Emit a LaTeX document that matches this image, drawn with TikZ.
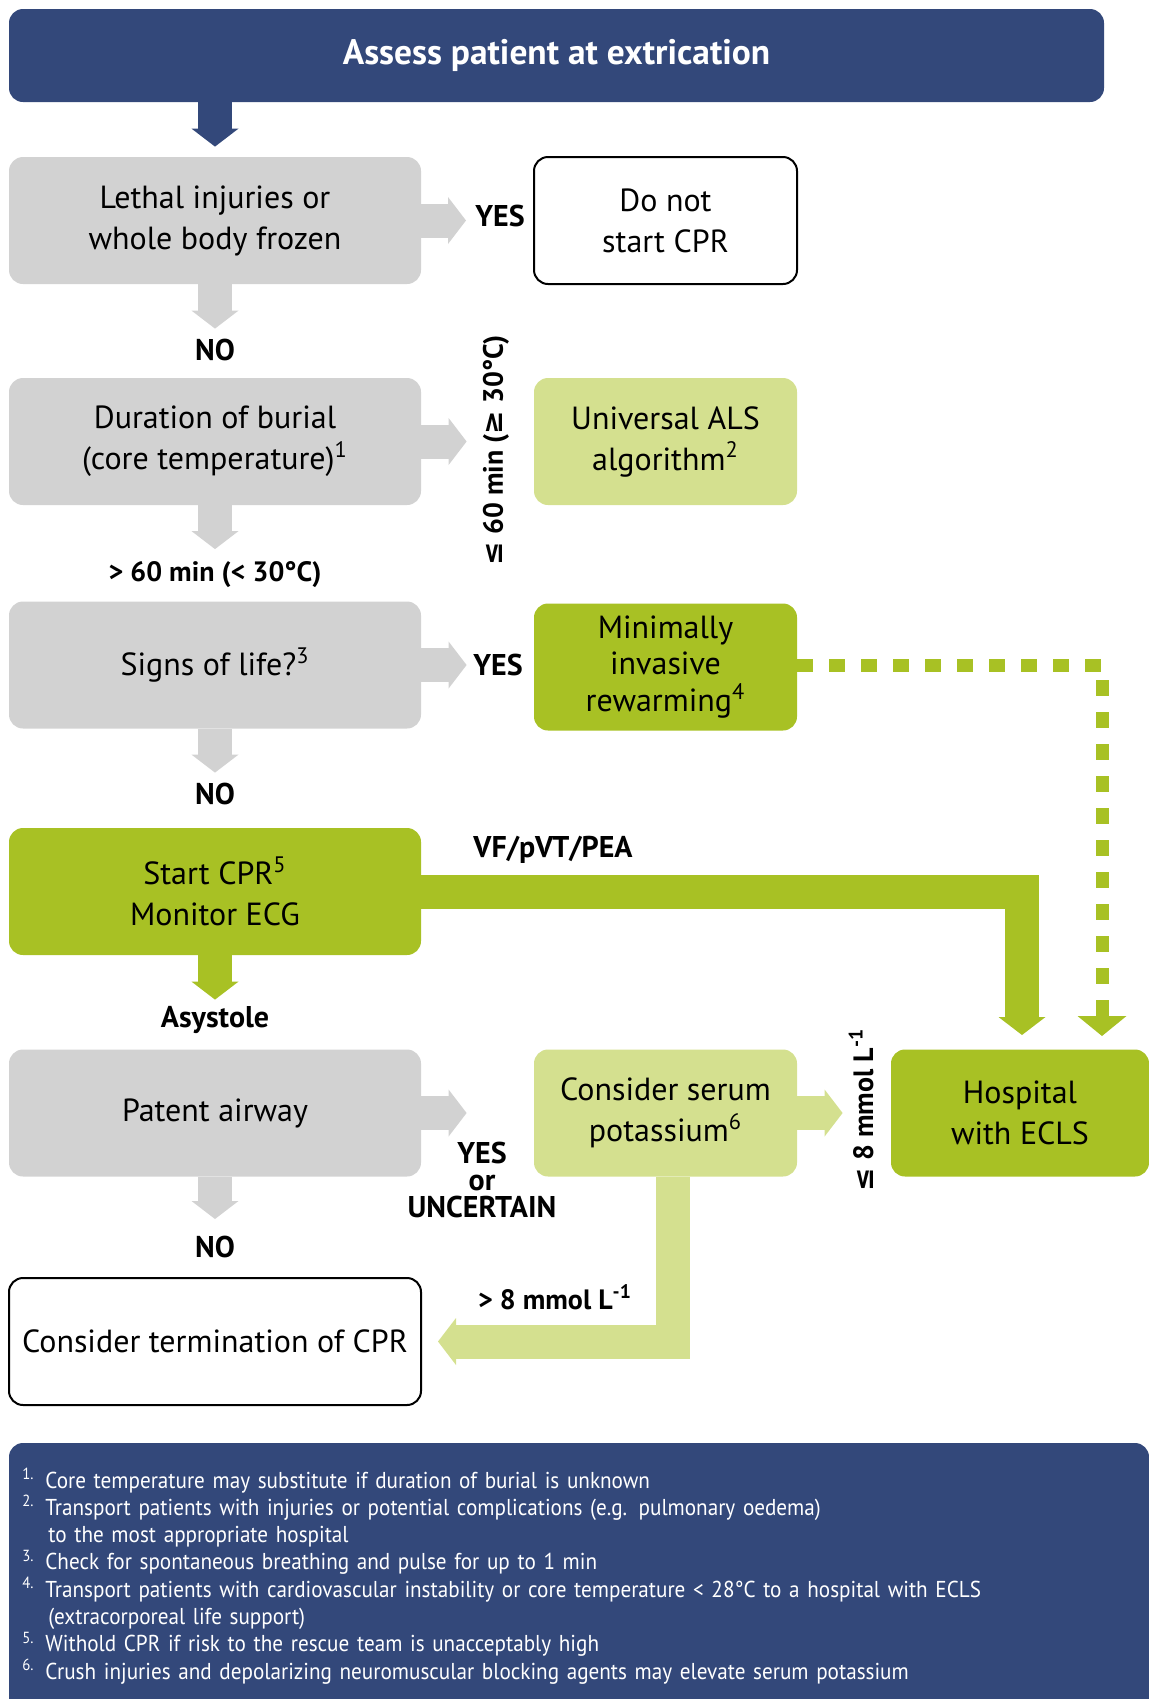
\documentclass[tikz,border=0pt]{standalone}
\usepackage{fontspec}
\setmainfont{PT Sans}
\newfontfamily\symfont{DejaVu Sans}
\newfontfamily\notefont[FakeStretch=0.92]{PT Sans}
\usetikzlibrary{arrows.meta}
\definecolor{myblue}{HTML}{33487A}
\definecolor{mygrey}{HTML}{D2D2D2}
\definecolor{mypale}{HTML}{D4E08F}
\definecolor{mygreen}{HTML}{A8C124}
\tikzset{
    every node/.style={inner sep=0pt, align=center, font=\fontsize{16}{20.5}\selectfont},
    wide/.style={rectangle, rounded corners=7pt, minimum width=206pt, minimum height=63.5pt},
    narrow/.style={rectangle, rounded corners=7pt, minimum width=131.5pt, minimum height=63.5pt},
    greybox/.style={fill=mygrey},
    palebox/.style={fill=mypale},
    limebox/.style={fill=mygreen},
    outline/.style={draw=black, line width=1pt},
    banner/.style={fill=myblue, text=white, rounded corners=7pt, minimum width=547.5pt, minimum height=46.5pt, font=\bfseries\fontsize{17.7}{20}\selectfont},
    lbl/.style={font=\bfseries\fontsize{15}{13.5}\selectfont},
    block/.style={line width=17pt, -{Triangle[width=23.5pt,length=9pt,line width=0pt]}},
    link/.style={line width=6.5pt, dash pattern=on 8pt off 8pt, mygreen, -{Triangle[width=24.5pt,length=10pt,line width=0pt]}}
}

\begin{document}
\begin{tikzpicture}[x=0.5pt, y=-0.5pt]
\useasboundingbox (0,0) rectangle (1149,1699);

\node[banner] at (556.5,55.5) (title) {Assess patient at extrication};

\node[wide,greybox] at (215,220.5) (lethal) {Lethal injuries or\\whole body frozen};
\node[narrow,outline] at (665.5,220.5) (donot) {Do not\\start CPR};
\node[lbl] at (500,216) (yes1) {YES};
\node[lbl] at (215,350) (no1) {NO};

\node[wide,greybox] at (215,441.5) (burial) {Duration of burial\\(core temperature)\textsuperscript{1}};
\node[narrow,palebox] at (665.5,441.5) (als) {Universal ALS\\algorithm\textsuperscript{2}};
\node[lbl,rotate=90,font=\bfseries\fontsize{14}{12.5}\selectfont] at (496,450) (short) {{\symfont ≤} 60 min ({\symfont ≥} 30°C)};
\node[lbl,font=\bfseries\fontsize{14}{12.5}\selectfont] at (215,575) (long) {> 60 min (< 30°C)};

\node[wide,greybox] at (215,665) (signs) {Signs of life?\textsuperscript{3}};
\node[narrow,limebox,font=\fontsize{16}{18.3}\selectfont] at (665.5,667) (rewarm) {Minimally\\invasive\\rewarming\textsuperscript{4}};
\node[lbl] at (498,665) (yes3) {YES};
\node[lbl] at (215,794) (no3) {NO};

\node[wide,limebox] at (215,891.5) (cpr) {Start CPR\textsuperscript{5}\\Monitor ECG};
\node[lbl] at (553,850) (vf) {VF/pVT/PEA};
\node[lbl] at (215,1020) (asys) {Asystole};

\node[wide,greybox] at (215,1113) (airway) {Patent airway};
\node[narrow,palebox] at (665.5,1113) (potassium) {Consider serum\\potassium\textsuperscript{6}};
\node[rectangle,rounded corners=7pt,minimum width=129pt,minimum height=63.5pt,limebox] at (1020,1113) (hospital) {Hospital\\with ECLS};
\node[lbl] at (482,1180) (unsure) {YES\\or\\UNCERTAIN};
\node[lbl,rotate=90,font=\bfseries\fontsize{14}{12.5}\selectfont] at (861,1110) (low) {{\symfont ≤} 8 mmol L\textsuperscript{-1}};
\node[lbl,font=\bfseries\fontsize{14}{12.5}\selectfont] at (555,1297) (high) {> 8 mmol L\textsuperscript{-1}};
\node[lbl] at (215,1247) (no5) {NO};

\node[wide,outline] at (215,1341.5) (stop) {Consider termination of CPR};

\coordinate (vfend) at (1022,1035);
\coordinate (dotend) at (1102,1036);

% arrows down the left column
\draw[block,myblue,shorten >=5pt] (lethal.north |- title.south) -- (lethal.north);
\draw[block,mygrey,shorten >=24.5pt] (lethal) -- (burial);
\draw[block,mygrey,shorten >=26pt] (burial) -- (signs);
\draw[block,mygrey,shorten >=27.5pt] (signs) -- (cpr);
\draw[block,mygreen,shorten >=24.75pt] (cpr) -- (airway);
\draw[block,mygrey,shorten >=29pt] (airway) -- (stop);

% arrows to the right
\draw[block,mygrey,shorten >=33.5pt] (lethal) -- (donot);
\draw[block,mygrey,shorten >=33.5pt] (burial) -- (als);
\draw[block,mygrey,shorten >=33.5pt] (signs) -- (signs -| rewarm.west);
\draw[block,mygrey,shorten >=33.5pt] (airway) -- (potassium);
\draw[block,mypale,shorten >=24pt] (potassium) -- (hospital);
\draw[block,mygreen] (cpr.east) -| (vfend);
\draw[block,mypale,shorten >=8pt] ([xshift=3.75pt]potassium.south) |- (stop);
\draw[link] (rewarm.east |- signs) -| (dotend);

% footnotes
\fill[myblue,rounded corners=7pt] (9,1443) rectangle (1149,1720);
\node[anchor=base west,text=white,align=left,text width=560pt,font=\notefont\fontsize{11.5}{13.65}\selectfont] at (22,1488) (notes) {%
\makebox[11.5pt][l]{\textsuperscript{1.}}Core temperature may substitute if duration of burial is unknown\\
\makebox[11.5pt][l]{\textsuperscript{2.}}Transport patients with injuries or potential complications (e.g. pulmonary oedema)\\
\hspace*{13pt}to the most appropriate hospital\\
\makebox[11.5pt][l]{\textsuperscript{3.}}Check for spontaneous breathing and pulse for up to 1 min\\
\makebox[11.5pt][l]{\textsuperscript{4.}}Transport patients with cardiovascular instability or core temperature < 28°C to a hospital with ECLS\\
\hspace*{13pt}(extracorporeal life support)\\
\makebox[11.5pt][l]{\textsuperscript{5.}}Withold CPR if risk to the rescue team is unacceptably high\\
\makebox[11.5pt][l]{\textsuperscript{6.}}Crush injuries and depolarizing neuromuscular blocking agents may elevate serum potassium};
\end{tikzpicture}
\end{document}
